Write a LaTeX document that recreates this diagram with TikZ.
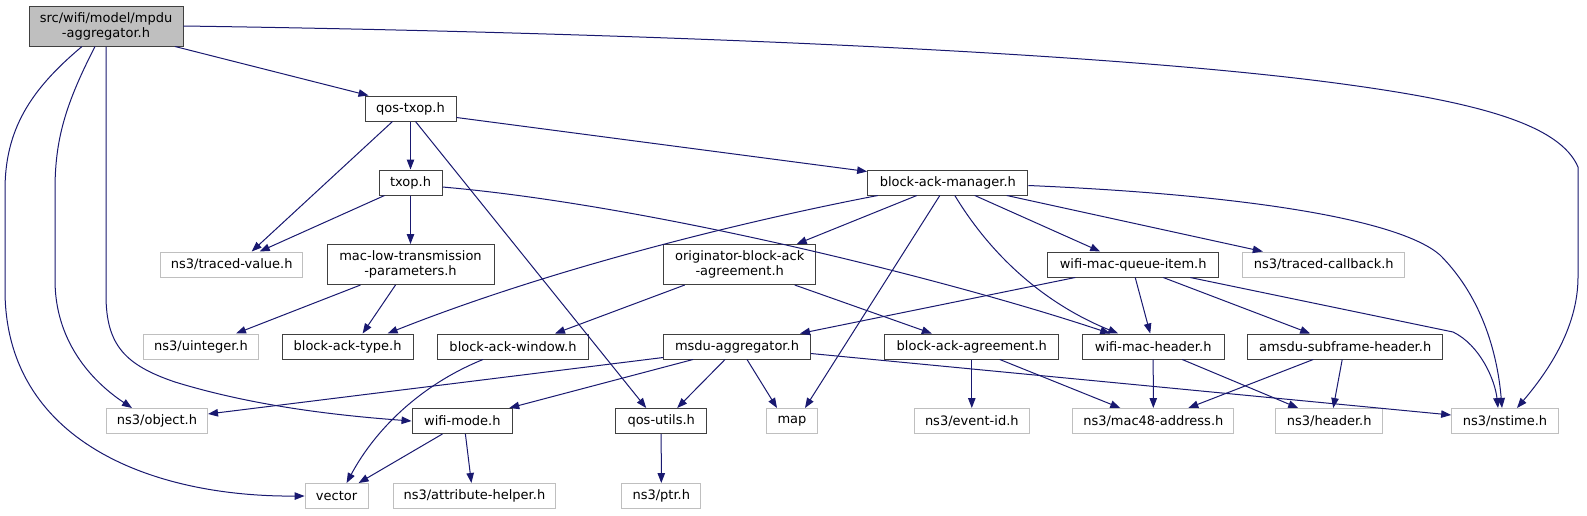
\documentclass[tikz,border=0pt]{standalone}
\usepackage{fontspec}
\setmainfont{DejaVu Sans}
\usetikzlibrary{arrows.meta,calc}
\definecolor{edgeblue}{HTML}{191970}
\definecolor{docborder}{HTML}{404040}
\definecolor{extborder}{HTML}{BFBFBF}
\definecolor{rootfill}{HTML}{BFBFBF}
\begin{document}
\begin{tikzpicture}[x=0.75pt,y=-0.75pt,
  box/.style={draw=docborder, line width=0.75pt, inner sep=0pt, align=center,
    font=\fontsize{9.75}{11.25}\selectfont, fill=white},
  ext/.style={box, draw=extborder},
  rootbox/.style={box, fill=rootfill},
  wh/.style 2 args={minimum width=#1*0.75pt, minimum height=#2*0.75pt},
  dep/.style={draw=edgeblue, line width=0.75pt, -{Triangle[length=7.5pt,width=5.6pt]}}]
\useasboundingbox (0,0) rectangle (1587,515);
\fill[white] (0,0) rectangle (1587,515);
% nodes
\node[rootbox,wh={154}{40}] (root) at (106,26) {src/wifi/model/mpdu\\-aggregator.h};
\node[box,wh={91}{25}] (qos) at (410.5,108.5) {qos-txop.h};
\node[box,wh={63}{25}] (txop) at (410.5,182.5) {txop.h};
\node[box,wh={160.3}{25}] (bam) at (947.8,182.5) {block-ack-manager.h};
\node[ext,wh={142.5}{25}] (tval) at (231.7,264.5) {ns3/traced-value.h};
\node[box,wh={167}{40}] (maclow) at (410.5,264.5) {mac-low-transmission\\-parameters.h};
\node[box,wh={152}{40}] (orig) at (739.7,264.5) {originator-block-ack\\-agreement.h};
\node[box,wh={171}{25}] (wmqi) at (1133.2,264.5) {wifi-mac-queue-item.h};
\node[ext,wh={161.7}{25}] (tcb) at (1323.8,264.5) {ns3/traced-callback.h};
\node[ext,wh={115}{25}] (uint) at (201,346.5) {ns3/uinteger.h};
\node[box,wh={131}{25}] (bat) at (347.6,346.5) {block-ack-type.h};
\node[box,wh={151}{25}] (baw) at (513,346.5) {block-ack-window.h};
\node[box,wh={146.6}{25}] (msdu) at (737,346.5) {msdu-aggregator.h};
\node[box,wh={173.7}{25}] (baa) at (971.8,346.5) {block-ack-agreement.h};
\node[box,wh={141.7}{25}] (wmh) at (1153.2,346.5) {wifi-mac-header.h};
\node[box,wh={195}{25}] (amsdu) at (1345.2,346.5) {amsdu-subframe-header.h};
\node[ext,wh={101}{25}] (obj) at (157,421) {ns3/object.h};
\node[box,wh={100.7}{25}] (wmode) at (462.4,421) {wifi-mode.h};
\node[box,wh={91}{25}] (qosu) at (661.2,421) {qos-utils.h};
\node[ext,wh={50.7}{25}] (map) at (792,421) {map};
\node[ext,wh={115}{25}] (evid) at (971.8,421) {ns3/event-id.h};
\node[ext,wh={161.3}{25}] (mac48) at (1153.3,421) {ns3/mac48-address.h};
\node[ext,wh={107}{25}] (hdr) at (1329.2,421) {ns3/header.h};
\node[ext,wh={106.7}{25}] (nst) at (1505,421) {ns3/nstime.h};
\node[ext,wh={63}{25}] (vec) at (336.6,496) {vector};
\node[ext,wh={162.7}{25}] (attr) at (474.4,496) {ns3/attribute-helper.h};
\node[ext,wh={78.7}{25}] (ptr) at (661.3,496) {ns3/ptr.h};
% edges from root
\draw[dep] ($(root.south)+(69,0)$) -- ($(qos.north)+(-42,0)$);
\draw[dep] (root.east) .. controls (600,32) and (1100,50) .. (1350,85)
  .. controls (1480,103) and (1560,125) .. (1578,167) -- (1578,277)
  .. controls (1578,330) and (1545,375) .. ($(nst.north)+(12,0)$);
\draw[dep] ($(root.south)+(-11,0)$) .. controls (65,105) and (55,140) .. (55,190) -- (55,280)
  .. controls (55,340) and (90,380) .. ($(obj.north)+(-25,0)$);
\draw[dep] (root.south) -- (106,295) .. controls (106,345) and (125,365) .. (175,382)
  .. controls (250,405) and (330,415) .. (wmode.west);
\draw[dep] ($(root.south)+(-24,0)$) .. controls (30,90) and (5,130) .. (5,190) -- (5,290)
  .. controls (5,440) and (150,497) .. (vec.west);
% qos-txop
\draw[dep] (qos.south) -- (txop.north);
\draw[dep] ($(qos.south)+(-18,0)$) -- ($(tval.north)+(20,0)$);
\draw[dep] ($(qos.south)+(5,0)$) -- ($(qosu.north)+(-15,0)$);
\draw[dep] ($(qos.south east)+(0,-4)$) -- ($(bam.north west)+(0,2)$);
% txop
\draw[dep] (txop.south) -- (maclow.north);
\draw[dep] ($(txop.south)+(-26,0)$) -- ($(tval.north)+(28,0)$);
\draw[dep] ($(txop.east)+(0,4.5)$) .. controls (650,205) and (950,280) .. ($(wmh.north)+(-43,0)$);
% block-ack-manager
\draw[dep] ($(bam.south)+(-70,0)$) .. controls (760,218) and (560,265) .. ($(bat.north)+(40,0)$);
\draw[dep] ($(bam.south)+(-31,0)$) -- ($(orig.north)+(57,0)$);
\draw[dep] ($(bam.south)+(-8,0)$) -- ($(map.north)+(13,0)$);
\draw[dep] ($(bam.south)+(7,0)$) .. controls (1000,270) and (1060,310) .. ($(wmh.north)+(-35,0)$);
\draw[dep] ($(bam.south)+(27,0)$) -- ($(wmqi.north)+(-33,0)$);
\draw[dep] ($(bam.south)+(59,0)$) -- ($(tcb.north)+(-61,0)$);
\draw[dep] ($(bam.east)+(0,3)$) .. controls (1250,195) and (1400,220) .. (1440,255)
  .. controls (1485,300) and (1498,360) .. ($(nst.north)+(-3,0)$);
% originator
\draw[dep] ($(orig.south)+(-55,0)$) -- ($(baw.north)+(42,0)$);
\draw[dep] ($(orig.south)+(55,0)$) -- ($(baa.north)+(-40,0)$);
% wifi-mac-queue-item
\draw[dep] ($(wmqi.south)+(-58,0)$) -- ($(msdu.north)+(63,0)$);
\draw[dep] ($(wmqi.south)+(2,0)$) -- ($(wmh.north)+(-3,0)$);
\draw[dep] ($(wmqi.south)+(30,0)$) -- ($(amsdu.north)+(-35,0)$);
\draw[dep] ($(wmqi.south)+(57,0)$) -- (1453,332) .. controls (1480,345) and (1495,380) .. ($(nst.north)+(-7,0)$);
% block-ack-window
\draw[dep] ($(baw.south)+(-30,0)$) .. controls (420,385) and (375,430) .. ($(vec.north)+(10,0)$);
% mac-low
\draw[dep] ($(maclow.south)+(-50,0)$) -- ($(uint.north)+(35,0)$);
\draw[dep] ($(maclow.south)+(-15,0)$) -- ($(bat.north)+(15,0)$);
% msdu-aggregator
\draw[dep] ($(msdu.south west)+(0,-2)$) -- ($(obj.east)+(0,-7)$);
\draw[dep] ($(msdu.south)+(-44,0)$) -- ($(wmode.north east)+(-4,0)$);
\draw[dep] ($(msdu.south)+(-12,0)$) -- ($(qosu.north)+(16,0)$);
\draw[dep] ($(msdu.south)+(10,0)$) -- ($(map.north)+(-15,0)$);
\draw[dep] ($(msdu.east)+(0,7)$) -- ($(nst.west)+(0,-6)$);
% block-ack-agreement
\draw[dep] (baa.south) -- (evid.north);
\draw[dep] ($(baa.south)+(28,0)$) -- ($(mac48.north)+(-33,0)$);
% wifi-mac-header
\draw[dep] (wmh.south) -- (mac48.north);
\draw[dep] ($(wmh.south)+(29,0)$) -- ($(hdr.north)+(-31,0)$);
% amsdu
\draw[dep] ($(amsdu.south)+(-32,0)$) -- ($(mac48.north)+(35,0)$);
\draw[dep] ($(amsdu.south)+(-3,0)$) -- ($(hdr.north)+(4,0)$);
% wifi-mode
\draw[dep] ($(wmode.south)+(-20,0)$) -- ($(vec.north)+(22,0)$);
\draw[dep] ($(wmode.south)+(3,0)$) -- ($(attr.north)+(-3,0)$);
% qos-utils
\draw[dep] (qosu.south) -- (ptr.north);
\end{tikzpicture}
\end{document}
